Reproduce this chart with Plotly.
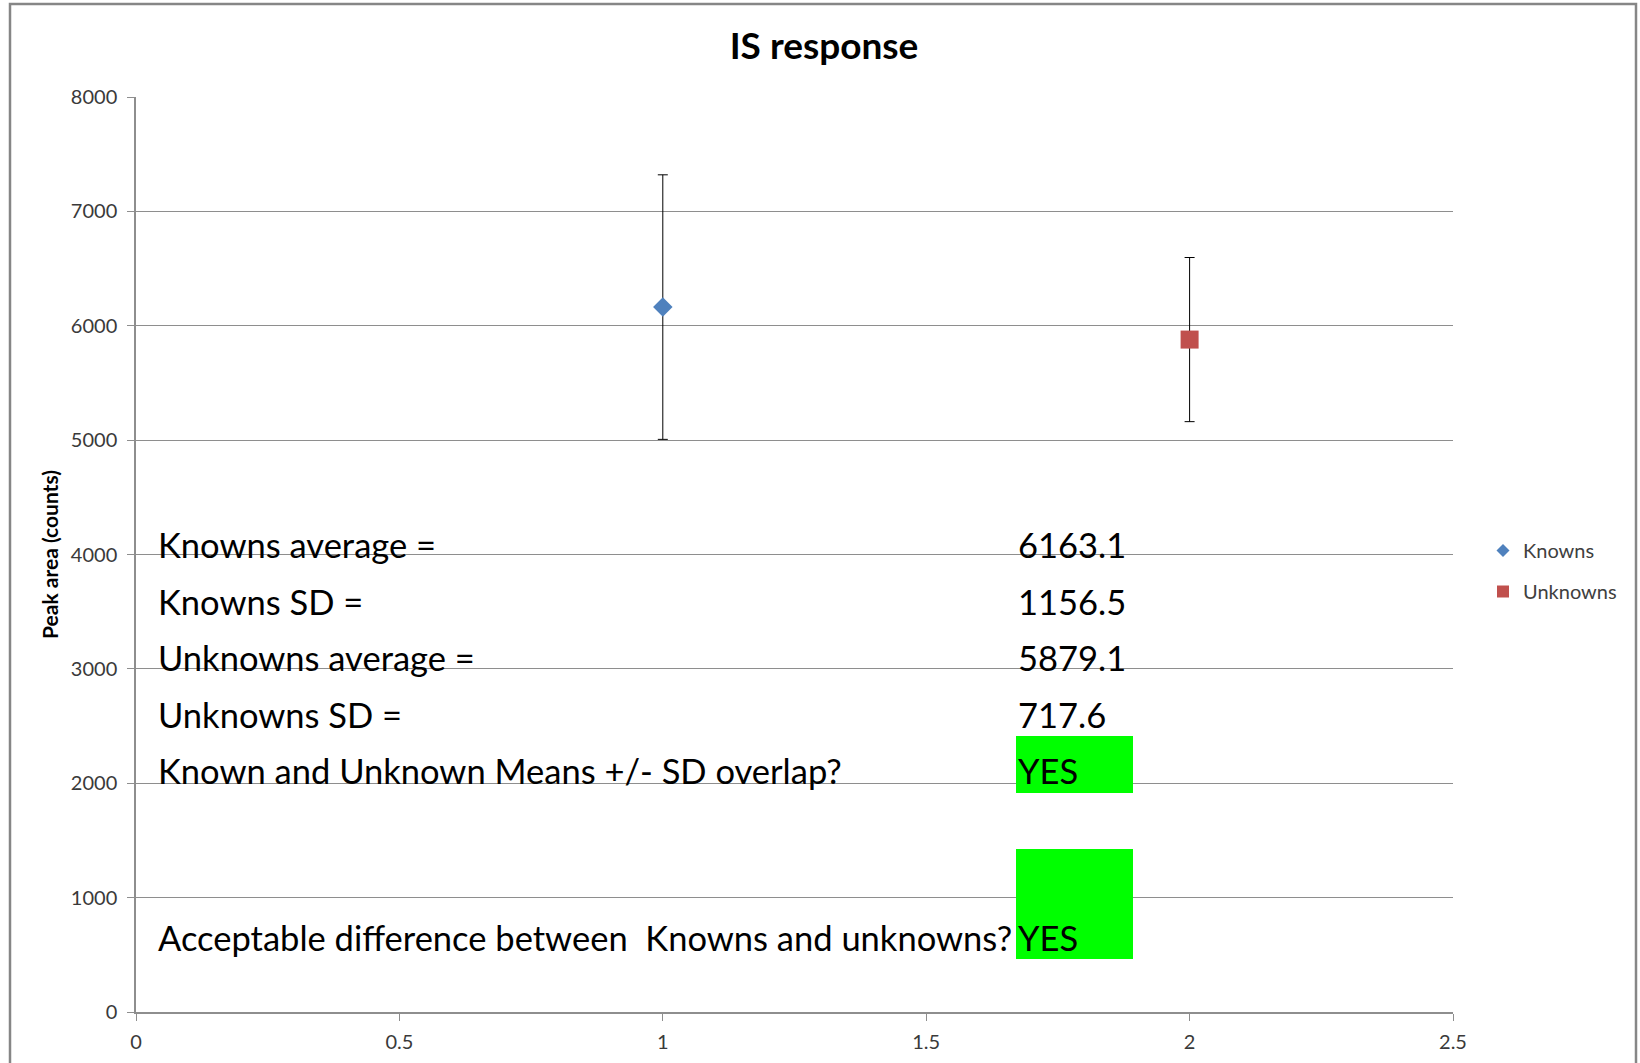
import plotly.graph_objects as go

# ---------------- data ----------------
series_names = ["Knowns", "Unknowns"]
x_positions = [1, 2]
means = [6163.1, 5879.1]
sds = [1156.5, 717.6]
marker_symbols = ["diamond", "square"]
marker_colors = ["#4F81BD", "#C0504D"]

table_labels = [
    "Knowns average =",
    "Knowns SD =",
    "Unknowns average =",
    "Unknowns SD =",
    "Known and Unknown Means +/- SD overlap?",
    "Acceptable difference between  Knowns and unknowns?",
]
table_values = ["6163.1", "1156.5", "5879.1", "717.6", "YES", "YES"]

x_ticks = [0, 0.5, 1, 1.5, 2, 2.5]
y_ticks = [0, 1000, 2000, 3000, 4000, 5000, 6000, 7000, 8000]

# ---------------- layout geometry (screen pixels) ----------------
W, H = 1640, 1063
L, R, T, B = 136, 1453, 97, 1012  # plot area edges


def px(x):
    return (x - L) / (R - L)


def py(y):
    return (B - y) / (B - T)


FONT = "Lato, 'Open Sans', sans-serif"
GRID = "#8e8e8e"

fig = go.Figure()

for i, name in enumerate(series_names):
    fig.add_trace(go.Scatter(
        x=[x_positions[i]], y=[means[i]], mode="markers", name=name,
        marker=dict(symbol=marker_symbols[i], color=marker_colors[i],
                    size=15 if marker_symbols[i] == "diamond" else 18,
                    line=dict(width=0)),
        error_y=dict(type="data", array=[sds[i]], symmetric=True,
                     color="#000000", thickness=1, width=5),
        showlegend=False,
    ))

# legend-only entries (smaller legend symbols like the original)
for i, name in enumerate(series_names):
    fig.add_trace(go.Scatter(
        x=[None], y=[None], mode="markers", name=name,
        legendgroup=name,
        marker=dict(symbol=marker_symbols[i], color=marker_colors[i],
                    size=10 if marker_symbols[i] == "diamond" else 12,
                    line=dict(width=0)),
        showlegend=True,
    ))

row_centers = [544, 601, 657, 714, 770, 937]
annotations = []
for lab, val, yc in zip(table_labels, table_values, row_centers):
    annotations.append(dict(text=lab, x=px(156), y=py(yc), xref="paper", yref="paper",
                            xanchor="left", yanchor="middle", showarrow=False,
                            font=dict(family=FONT, size=34.5, color="#000000")))
    annotations.append(dict(text=val, x=px(1016), y=py(yc), xref="paper", yref="paper",
                            xanchor="left", yanchor="middle", showarrow=False,
                            font=dict(family=FONT, size=34.5, color="#000000")))

shapes = [
    dict(type="rect", xref="paper", yref="paper", x0=px(1016), x1=px(1133),
         y0=py(793), y1=py(736), fillcolor="#00FF00", line=dict(width=0), layer="above"),
    dict(type="rect", xref="paper", yref="paper", x0=px(1016), x1=px(1133),
         y0=py(959), y1=py(849), fillcolor="#00FF00", line=dict(width=0), layer="above"),
    dict(type="rect", xref="paper", yref="paper", x0=px(10), x1=px(1636),
         y0=py(1075), y1=py(4), fillcolor="rgba(0,0,0,0)",
         line=dict(color="#868686", width=2.5), layer="above"),
]

fig.update_layout(
    width=W, height=H,
    margin=dict(l=L, r=W - R, t=T, b=H - B, autoexpand=False),
    paper_bgcolor="white", plot_bgcolor="white",
    font=dict(family=FONT, color="#3a3a3a"),
    title=dict(text="<b>IS response</b>", x=824 / W, xref="container", xanchor="center",
               y=1 - 46 / H, yref="container", yanchor="middle",
               font=dict(family=FONT, size=37, color="#000000")),
    xaxis=dict(range=[0, 2.5], tickvals=x_ticks, ticktext=[f"{v:g}" for v in x_ticks],
               showgrid=False, zeroline=False, showline=True, linecolor=GRID, linewidth=1.5,
               ticks="outside", ticklen=7, tickcolor=GRID, tickwidth=1,
               ticklabelstandoff=4,
               tickfont=dict(family=FONT, size=20, color="#3a3a3a")),
    yaxis=dict(range=[0, 8000], tickvals=y_ticks, showgrid=True, gridcolor=GRID, gridwidth=1.3,
               zeroline=False, showline=True, linecolor=GRID, linewidth=1.5,
               ticks="outside", ticklen=7, tickcolor=GRID, tickwidth=1,
               ticklabelstandoff=6,
               tickfont=dict(family=FONT, size=20, color="#3a3a3a"),
               title=dict(text="<b>Peak area (counts)</b>", standoff=6,
                          font=dict(family=FONT, size=21, color="#000000"))),
    legend=dict(x=px(1483), y=py(531), xanchor="left", yanchor="top",
                font=dict(family=FONT, size=20, color="#404040"),
                traceorder="grouped", tracegroupgap=12, bgcolor="rgba(0,0,0,0)"),
    annotations=annotations,
    shapes=shapes,
)

fig.write_html(
    "out.html",
    config={"displayModeBar": False},
    post_script="document.body.style.margin='0';document.body.style.overflow='hidden';",
)
